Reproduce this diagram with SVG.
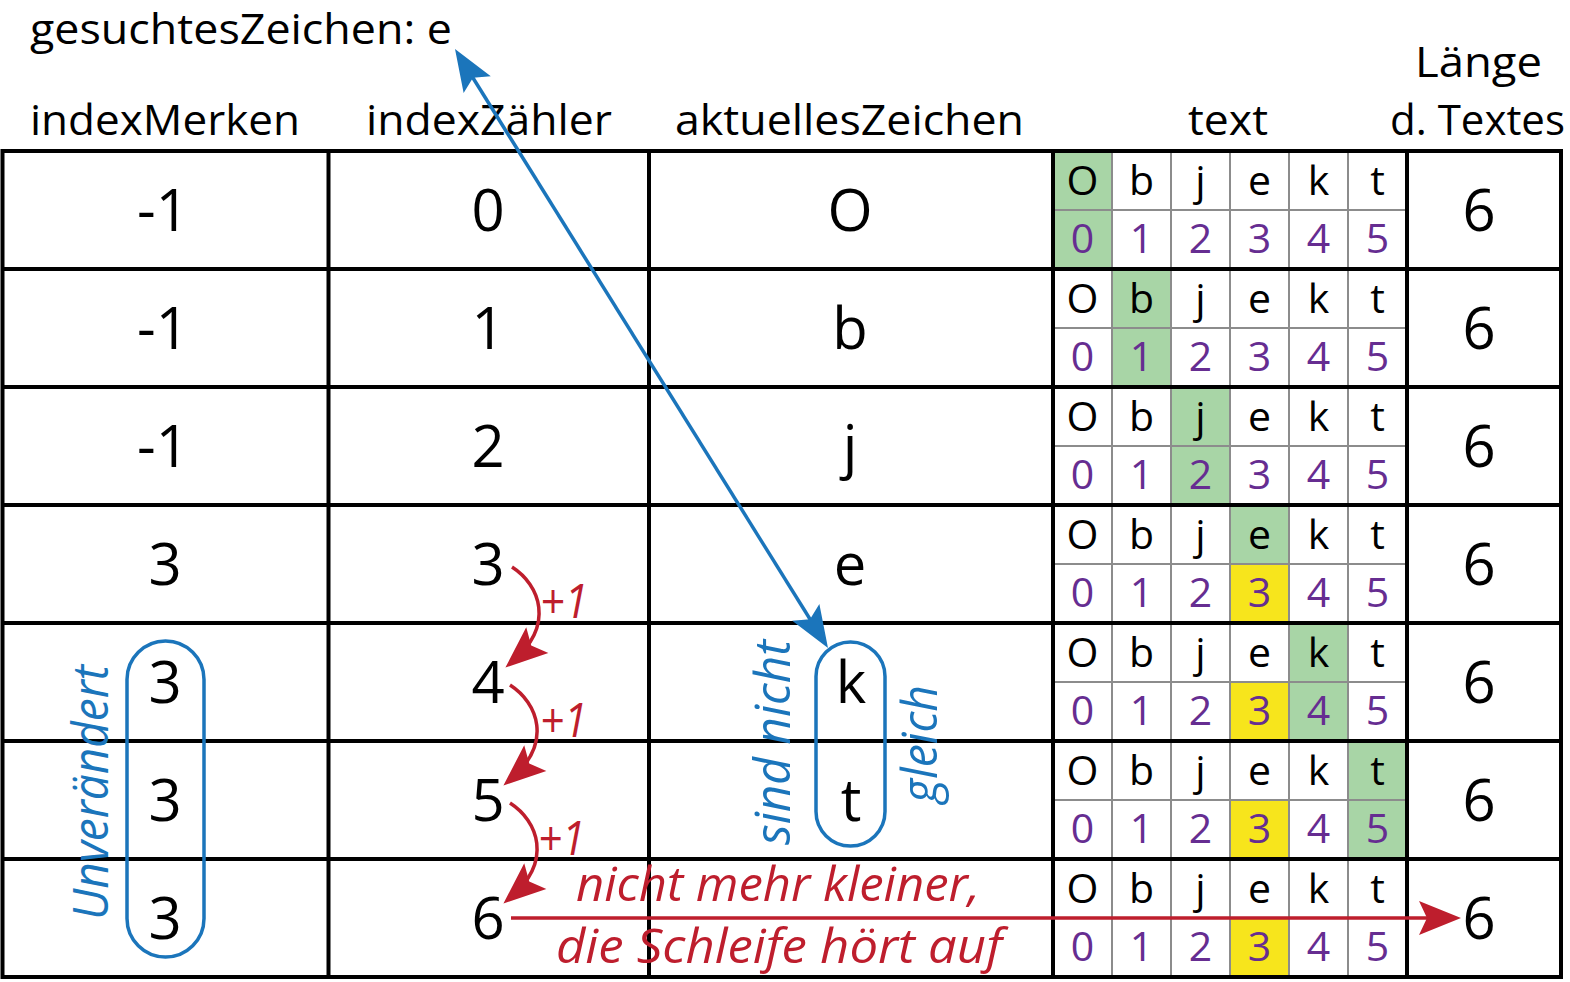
<svg xmlns="http://www.w3.org/2000/svg" width="1570" height="982" viewBox="0 0 1570 982">
<style>
.hd{font-family:"Open Sans","Noto Sans",sans-serif;font-size:42px;fill:#000}
.big{font-family:"Open Sans","Noto Sans",sans-serif;font-size:58px;fill:#000;text-anchor:middle}
.ch{font-family:"Open Sans","Noto Sans",sans-serif;font-size:41px;fill:#000;text-anchor:middle}
.dg{font-family:"Open Sans","Noto Sans",sans-serif;font-size:41px;fill:#662d91;text-anchor:middle}
.hwb{font-family:"Open Sans","Noto Sans",sans-serif;font-style:italic;font-size:50px;fill:#1b75bb}
.hwr{font-family:"Open Sans","Noto Sans",sans-serif;font-style:italic;font-size:48px;fill:#be1e2d}
.blk{stroke:#000;stroke-width:4;fill:none}
.gry{stroke:#8c8c8c;stroke-width:2;fill:none}
.gr{fill:#a8d5a6}
.ye{fill:#f7e51c}
.bl{stroke:#1b75bb;stroke-width:3.5;fill:none}
.rd{stroke:#be1e2d;stroke-width:3.5;fill:none}
.pill{stroke:#1b75bb;stroke-width:3.5;fill:none}
</style>
<defs>
<marker id="hb" markerUnits="userSpaceOnUse" viewBox="-45 -20 50 40" refX="-10" refY="0" markerWidth="50" markerHeight="40" orient="auto-start-reverse" overflow="visible">
<path d="M0,0 L-42,-16 L-34,0 L-42,16 Z" fill="#1b75bb"/>
</marker>
<marker id="hr" markerUnits="userSpaceOnUse" viewBox="-45 -20 50 40" refX="-10" refY="0" markerWidth="50" markerHeight="40" orient="auto" overflow="visible">
<path d="M0,0 L-42,-17 L-34,0 L-42,17 Z" fill="#be1e2d"/>
</marker>
</defs>
<rect width="1570" height="982" fill="#fff"/>

<g id="headers">
<text class="hd" x="30" y="44" textLength="422" lengthAdjust="spacingAndGlyphs">gesuchtesZeichen: e</text>
<text class="hd" x="30" y="135" textLength="270" lengthAdjust="spacingAndGlyphs">indexMerken</text>
<text class="hd" x="366" y="135" textLength="246" lengthAdjust="spacingAndGlyphs">indexZähler</text>
<text class="hd" x="675" y="135" textLength="349" lengthAdjust="spacingAndGlyphs">aktuellesZeichen</text>
<text class="hd" x="1188" y="135" textLength="80" lengthAdjust="spacingAndGlyphs">text</text>
<text class="hd" x="1415" y="77" textLength="127" lengthAdjust="spacingAndGlyphs">Länge</text>
<text class="hd" x="1390" y="135" textLength="175" lengthAdjust="spacingAndGlyphs">d. Textes</text>
</g>

<g id="highlights">
<rect class="gr" x="1053" y="151" width="59" height="118"/>
<rect class="gr" x="1112" y="269" width="59" height="118"/>
<rect class="gr" x="1171" y="387" width="59" height="118"/>
<rect class="gr" x="1230" y="505" width="59" height="59"/>
<rect class="ye" x="1230" y="564" width="59" height="59"/>
<rect class="gr" x="1289" y="623" width="59" height="118"/>
<rect class="ye" x="1230" y="682" width="59" height="59"/>
<rect class="gr" x="1348" y="741" width="59" height="118"/>
<rect class="ye" x="1230" y="800" width="59" height="59"/>
<rect class="ye" x="1230" y="918" width="59" height="59"/>
</g>

<g id="grid">
<path class="gry" d="M1112,151V977M1171,151V977M1230,151V977M1289,151V977M1348,151V977M1053,210H1407M1053,328H1407M1053,446H1407M1053,564H1407M1053,682H1407M1053,800H1407M1053,918H1407"/>
<path class="blk" d="M0.5,151H1563M0.5,269H1563M0.5,387H1563M0.5,505H1563M0.5,623H1563M0.5,741H1563M0.5,859H1563M0.5,977H1563M2.5,149V979M328.5,149V979M649,149V979M1053,149V979M1407,149V979M1561,149V979"/>
</g>

<g id="col-indexMerken">
<text class="big" x="163" y="231">-1</text>
<text class="big" x="163" y="349">-1</text>
<text class="big" x="163" y="467">-1</text>
<text class="big" x="165" y="585">3</text>
<text class="big" x="165" y="703">3</text>
<text class="big" x="165" y="821">3</text>
<text class="big" x="165" y="939">3</text>
</g>

<g id="col-indexZaehler">
<text class="big" x="488" y="231">0</text>
<text class="big" x="488" y="349">1</text>
<text class="big" x="488" y="467">2</text>
<text class="big" x="488" y="585">3</text>
<text class="big" x="488" y="703">4</text>
<text class="big" x="488" y="821">5</text>
<text class="big" x="488" y="939">6</text>
</g>

<g id="col-aktuellesZeichen">
<text class="big" x="850" y="231">O</text>
<text class="big" x="850" y="349">b</text>
<text class="big" x="850" y="467">j</text>
<text class="big" x="850" y="585">e</text>
<text class="big" x="851" y="703">k</text>
<text class="big" x="851" y="821">t</text>
</g>

<g id="col-laenge">
<text class="big" x="1479" y="231">6</text>
<text class="big" x="1479" y="349">6</text>
<text class="big" x="1479" y="467">6</text>
<text class="big" x="1479" y="585">6</text>
<text class="big" x="1479" y="703">6</text>
<text class="big" x="1479" y="821">6</text>
<text class="big" x="1479" y="939">6</text>
</g>

<g id="col-text">
<g id="text-row0"><text class="ch" y="195"><tspan x="1082.5">O</tspan><tspan x="1141.5">b</tspan><tspan x="1200.5">j</tspan><tspan x="1259.5">e</tspan><tspan x="1318.5">k</tspan><tspan x="1377.5">t</tspan></text><text class="dg" y="253"><tspan x="1082.5">0</tspan><tspan x="1141.5">1</tspan><tspan x="1200.5">2</tspan><tspan x="1259.5">3</tspan><tspan x="1318.5">4</tspan><tspan x="1377.5">5</tspan></text></g>
<g id="text-row1"><text class="ch" y="313"><tspan x="1082.5">O</tspan><tspan x="1141.5">b</tspan><tspan x="1200.5">j</tspan><tspan x="1259.5">e</tspan><tspan x="1318.5">k</tspan><tspan x="1377.5">t</tspan></text><text class="dg" y="371"><tspan x="1082.5">0</tspan><tspan x="1141.5">1</tspan><tspan x="1200.5">2</tspan><tspan x="1259.5">3</tspan><tspan x="1318.5">4</tspan><tspan x="1377.5">5</tspan></text></g>
<g id="text-row2"><text class="ch" y="431"><tspan x="1082.5">O</tspan><tspan x="1141.5">b</tspan><tspan x="1200.5">j</tspan><tspan x="1259.5">e</tspan><tspan x="1318.5">k</tspan><tspan x="1377.5">t</tspan></text><text class="dg" y="489"><tspan x="1082.5">0</tspan><tspan x="1141.5">1</tspan><tspan x="1200.5">2</tspan><tspan x="1259.5">3</tspan><tspan x="1318.5">4</tspan><tspan x="1377.5">5</tspan></text></g>
<g id="text-row3"><text class="ch" y="549"><tspan x="1082.5">O</tspan><tspan x="1141.5">b</tspan><tspan x="1200.5">j</tspan><tspan x="1259.5">e</tspan><tspan x="1318.5">k</tspan><tspan x="1377.5">t</tspan></text><text class="dg" y="607"><tspan x="1082.5">0</tspan><tspan x="1141.5">1</tspan><tspan x="1200.5">2</tspan><tspan x="1259.5">3</tspan><tspan x="1318.5">4</tspan><tspan x="1377.5">5</tspan></text></g>
<g id="text-row4"><text class="ch" y="667"><tspan x="1082.5">O</tspan><tspan x="1141.5">b</tspan><tspan x="1200.5">j</tspan><tspan x="1259.5">e</tspan><tspan x="1318.5">k</tspan><tspan x="1377.5">t</tspan></text><text class="dg" y="725"><tspan x="1082.5">0</tspan><tspan x="1141.5">1</tspan><tspan x="1200.5">2</tspan><tspan x="1259.5">3</tspan><tspan x="1318.5">4</tspan><tspan x="1377.5">5</tspan></text></g>
<g id="text-row5"><text class="ch" y="785"><tspan x="1082.5">O</tspan><tspan x="1141.5">b</tspan><tspan x="1200.5">j</tspan><tspan x="1259.5">e</tspan><tspan x="1318.5">k</tspan><tspan x="1377.5">t</tspan></text><text class="dg" y="843"><tspan x="1082.5">0</tspan><tspan x="1141.5">1</tspan><tspan x="1200.5">2</tspan><tspan x="1259.5">3</tspan><tspan x="1318.5">4</tspan><tspan x="1377.5">5</tspan></text></g>
<g id="text-row6"><text class="ch" y="903"><tspan x="1082.5">O</tspan><tspan x="1141.5">b</tspan><tspan x="1200.5">j</tspan><tspan x="1259.5">e</tspan><tspan x="1318.5">k</tspan><tspan x="1377.5">t</tspan></text><text class="dg" y="961"><tspan x="1082.5">0</tspan><tspan x="1141.5">1</tspan><tspan x="1200.5">2</tspan><tspan x="1259.5">3</tspan><tspan x="1318.5">4</tspan><tspan x="1377.5">5</tspan></text></g>
</g>

<g id="annotation-unveraendert">
<rect class="pill" x="127" y="641" width="77" height="316" rx="38.5"/>
<text class="hwb" x="108" y="920" transform="rotate(-90 108 920)" textLength="255" lengthAdjust="spacingAndGlyphs">Unverändert</text>
</g>

<g id="annotation-nichtgleich">
<rect class="pill" x="816" y="642" width="69" height="204" rx="34.5"/>
<text class="hwb" x="790" y="845" transform="rotate(-90 790 845)" textLength="205" lengthAdjust="spacingAndGlyphs">sind nicht</text>
<text class="hwb" x="937" y="803" transform="rotate(-90 937 803)" textLength="118" lengthAdjust="spacingAndGlyphs">gleich</text>
</g>

<g id="labels-plus1">
<text class="hwr" x="540" y="618" textLength="48" lengthAdjust="spacingAndGlyphs">+1</text>
<text class="hwr" x="540" y="737" textLength="47" lengthAdjust="spacingAndGlyphs">+1</text>
<text class="hwr" x="538" y="855" textLength="47" lengthAdjust="spacingAndGlyphs">+1</text>
</g>

<g id="label-schleife">
<text class="hwr" x="576" y="901" textLength="404" lengthAdjust="spacingAndGlyphs">nicht mehr kleiner,</text>
<text class="hwr" x="556" y="963" textLength="446" lengthAdjust="spacingAndGlyphs">die Schleife hört auf</text>
</g>

<g id="connectors">
<path class="bl" d="M460.3,57.5 L822.7,639.5" marker-start="url(#hb)" marker-end="url(#hb)"/>
<path class="rd" d="M512,567 C540,585 555,625 513,661" marker-end="url(#hr)"/>
<path class="rd" d="M510,685 C538,703 553,743 511,779" marker-end="url(#hr)"/>
<path class="rd" d="M510,803 C538,821 553,861 511,897" marker-end="url(#hr)"/>
<path class="rd" d="M511,918 L1451,918" marker-end="url(#hr)"/>
</g>
</svg>
